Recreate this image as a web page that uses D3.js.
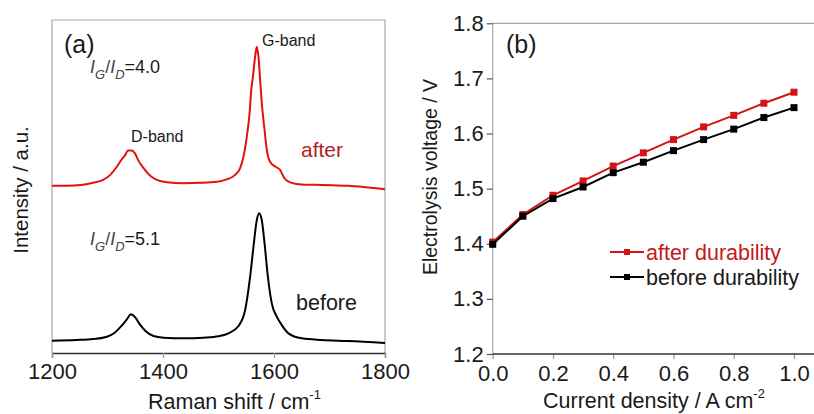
<!DOCTYPE html>
<html>
<head>
<meta charset="utf-8">
<script src="https://cdn.jsdelivr.net/npm/d3@7"></script>
<style>
  html, body { margin: 0; padding: 0; background: #fff; }
  svg { display: block; font-family: "Liberation Sans", Arial, sans-serif; }
</style>
</head>
<body>
<svg id="fig" width="814" height="414"></svg>
<script>
// ---- (a) Raman spectra ----
const afterShift = [1200,1226,1256,1274,1292,1305,1317,1325,1332,1337,1344,1350,1355,1365,1377,1389,1407,1437,1467,1497,1512,1530,1539,1545,1551,1556,1559,1562,1566,1569,1572,1575,1578,1583,1587,1593,1602,1611,1614,1620,1632,1650,1674,1704,1734,1764,1800];
const afterIntensity = [50.2,50.2,50.5,51.1,52.0,53.5,56.0,58.0,59.5,60.8,60.8,59.8,58.0,55.5,53.2,52.0,51.3,51.0,51.1,51.4,52.0,53.5,55.5,59.0,65.0,72.0,79.0,83.0,89.0,92.0,89.0,82.0,75.0,67.0,61.0,57.4,56.0,55.0,54.0,52.2,51.1,50.6,50.5,50.4,50.2,49.8,49.2];
const beforeShift = [1200,1244,1274,1299,1313,1325,1335,1342,1350,1357,1368,1383,1401,1437,1473,1500,1518,1536,1548,1557,1563,1569,1573,1578,1583,1589,1596,1605,1614,1626,1650,1686,1734,1800];
const beforeIntensity = [3.7,3.9,4.2,4.9,6.1,8.1,10.1,11.6,10.7,8.9,6.7,5.1,4.6,4.4,4.6,5.0,5.9,8.1,12.9,22.9,31.9,39.9,42.0,39.9,32.9,22.9,14.9,10.9,8.4,5.9,4.4,3.9,3.6,3.0];
const ramanTicks = [1200, 1400, 1600, 1800];

// ---- (b) polarization curves ----
const currentDensity = [0.0,0.1,0.2,0.3,0.4,0.5,0.6,0.7,0.8,0.9,1.0];
const voltageAfter  = [1.403,1.453,1.488,1.514,1.541,1.565,1.589,1.612,1.633,1.655,1.675];
const voltageBefore = [1.399,1.450,1.482,1.503,1.529,1.548,1.569,1.589,1.608,1.629,1.647];
const currentTicks = [0.0,0.2,0.4,0.6,0.8,1.0];
const voltageTicks = [1.2,1.3,1.4,1.5,1.6,1.7,1.8];

const svg = d3.select("#fig");
const TEXT = "#1a1a1a";
const FRAME = "#a8a8a8";
const AXIS = "#333";

// ================= panel (a) =================
const ax = { left: 52, right: 385, top: 20, bottom: 353 };
const xR = d3.scaleLinear().domain([1200, 1800]).range([ax.left, ax.right]);
const yR = d3.scaleLinear().domain([0, 100]).range([ax.bottom, ax.top]);

const gA = svg.append("g");
// frame (top, left, right in light grey)
gA.append("path")
  .attr("d", `M${ax.left},${ax.bottom}V${ax.top}H${ax.right}V${ax.bottom}`)
  .attr("fill", "none").attr("stroke", FRAME).attr("stroke-width", 1.2);

const xAxisA = gA.append("g")
  .attr("transform", `translate(0,${ax.bottom})`)
  .call(d3.axisBottom(xR).tickValues(ramanTicks).tickFormat(d3.format("d"))
        .tickSizeOuter(0).tickSize(5).tickPadding(5));
xAxisA.select(".domain").attr("stroke", AXIS).attr("stroke-width", 1.3);
xAxisA.selectAll(".tick line").attr("stroke", "#999").attr("stroke-width", 1.2);
xAxisA.selectAll(".tick text").attr("fill", TEXT).style("font-size", "22px")
  .style("font-family", '"Liberation Sans", Arial, sans-serif');

const lineA = d3.line().x(d => xR(d[0])).y(d => yR(d[1])).curve(d3.curveMonotoneX);
gA.append("path")
  .datum(afterShift.map((s, i) => [s, afterIntensity[i]]))
  .attr("d", lineA).attr("fill", "none").attr("stroke", "#e51010").attr("stroke-width", 2)
  .attr("stroke-linejoin", "round");
gA.append("path")
  .datum(beforeShift.map((s, i) => [s, beforeIntensity[i]]))
  .attr("d", lineA).attr("fill", "none").attr("stroke", "#000").attr("stroke-width", 2)
  .attr("stroke-linejoin", "round");

// annotations
gA.append("text").attr("x", 64).attr("y", 53).attr("fill", TEXT)
  .style("font-size", "25px").text("(a)");
gA.append("text").attr("x", 262).attr("y", 46).attr("fill", TEXT)
  .style("font-size", "16px").text("G-band");
gA.append("text").attr("x", 131).attr("y", 142).attr("fill", TEXT)
  .style("font-size", "16px").text("D-band");
gA.append("text").attr("x", 301).attr("y", 157).attr("fill", "#b01e24")
  .style("font-size", "21px").text("after");
gA.append("text").attr("x", 296).attr("y", 310).attr("fill", TEXT)
  .style("font-size", "21.5px").text("before");

function ratioLabel(x, y, value) {
  const t = gA.append("text").attr("x", x).attr("y", y).attr("fill", "#444")
    .style("font-size", "18px");
  t.append("tspan").style("font-style", "italic").text("I");
  t.append("tspan").style("font-style", "italic").style("font-size", "13px")
    .attr("dy", 6).text("G");
  t.append("tspan").attr("dy", -6).text("/");
  t.append("tspan").style("font-style", "italic").text("I");
  t.append("tspan").style("font-style", "italic").style("font-size", "13px")
    .attr("dy", 6).text("D");
  t.append("tspan").attr("dy", -6).attr("fill", TEXT).text("=" + value);
}
ratioLabel(90, 73, "4.0");
ratioLabel(90, 245, "5.1");

// axis titles
const tA = gA.append("text").attr("x", 148).attr("y", 409).attr("fill", TEXT)
  .style("font-size", "21.5px");
tA.append("tspan").text("Raman shift / cm");
tA.append("tspan").attr("dy", -10).style("font-size", "13px").text("-1");

gA.append("text").attr("transform", "translate(28,190) rotate(-90)")
  .attr("text-anchor", "middle").attr("fill", TEXT)
  .style("font-size", "20.5px").text("Intensity / a.u.");

// ================= panel (b) =================
const bx = { left: 492.7, right: 794, top: 23.3, bottom: 354 };
const xB = d3.scaleLinear().domain([0, 1.0]).range([bx.left, bx.right]);
const yB = d3.scaleLinear().domain([1.2, 1.8]).range([bx.bottom, bx.top]);

const gB = svg.append("g");
gB.append("path")
  .attr("d", `M${bx.left},${bx.bottom}V${bx.top}H814`)
  .attr("fill", "none").attr("stroke", FRAME).attr("stroke-width", 1.2);

const xAxisB = gB.append("g")
  .attr("transform", `translate(0,${bx.bottom})`)
  .call(d3.axisBottom(xB).tickValues(currentTicks).tickFormat(d3.format(".1f"))
        .tickSizeOuter(0).tickSize(5).tickPadding(6));
xAxisB.select(".domain").remove();
xAxisB.append("line").attr("x1", bx.left).attr("x2", 814).attr("y1", 0).attr("y2", 0)
  .attr("stroke", AXIS).attr("stroke-width", 1.3);
xAxisB.selectAll(".tick line").attr("stroke", "#999").attr("stroke-width", 1.2);
xAxisB.selectAll(".tick text").attr("fill", TEXT).style("font-size", "22px")
  .style("font-family", '"Liberation Sans", Arial, sans-serif');

const yAxisB = gB.append("g")
  .attr("transform", `translate(${bx.left},0)`)
  .call(d3.axisLeft(yB).tickValues(voltageTicks).tickFormat(d3.format(".1f"))
        .tickSizeOuter(0).tickSize(6).tickPadding(3));
yAxisB.select(".domain").remove();
yAxisB.selectAll(".tick line").attr("stroke", "#555").attr("stroke-width", 1.2);
yAxisB.selectAll(".tick text").attr("fill", TEXT).style("font-size", "22px")
  .style("font-family", '"Liberation Sans", Arial, sans-serif');

const lineB = d3.line().x((d, i) => xB(currentDensity[i])).y(d => yB(d));
const series = [
  { name: "after durability",  values: voltageAfter,  color: "#d41414", text: "#c41a1a" },
  { name: "before durability", values: voltageBefore, color: "#000",    text: TEXT }
];
const MS = 7;
series.forEach(s => {
  gB.append("path").datum(s.values).attr("d", lineB)
    .attr("fill", "none").attr("stroke", s.color).attr("stroke-width", 2);
  gB.selectAll(null).data(s.values).enter().append("rect")
    .attr("x", (d, i) => xB(currentDensity[i]) - MS / 2)
    .attr("y", d => yB(d) - MS / 2)
    .attr("width", MS).attr("height", MS).attr("fill", s.color);
});

// legend
series.forEach((s, i) => {
  const ly = 252 + i * 25;
  const g = gB.append("g");
  g.append("line").attr("x1", 610).attr("x2", 644).attr("y1", ly).attr("y2", ly)
    .attr("stroke", s.color).attr("stroke-width", 2);
  g.append("rect").attr("x", 627 - 3).attr("y", ly - 3).attr("width", 6).attr("height", 6)
    .attr("fill", s.color);
  g.append("text").attr("x", 646).attr("y", ly + 8).attr("fill", s.text)
    .style("font-size", "21.5px").text(s.name);
});

gB.append("text").attr("x", 506).attr("y", 53).attr("fill", TEXT)
  .style("font-size", "25px").text("(b)");

const tB = gB.append("text").attr("x", 543).attr("y", 408).attr("fill", TEXT)
  .style("font-size", "21.5px");
tB.append("tspan").text("Current density / A cm");
tB.append("tspan").attr("dy", -10).style("font-size", "13px").text("-2");

gB.append("text").attr("transform", "translate(437,177) rotate(-90)")
  .attr("text-anchor", "middle").attr("fill", TEXT)
  .style("font-size", "19.5px").text("Electrolysis voltage / V");
</script>
</body>
</html>
